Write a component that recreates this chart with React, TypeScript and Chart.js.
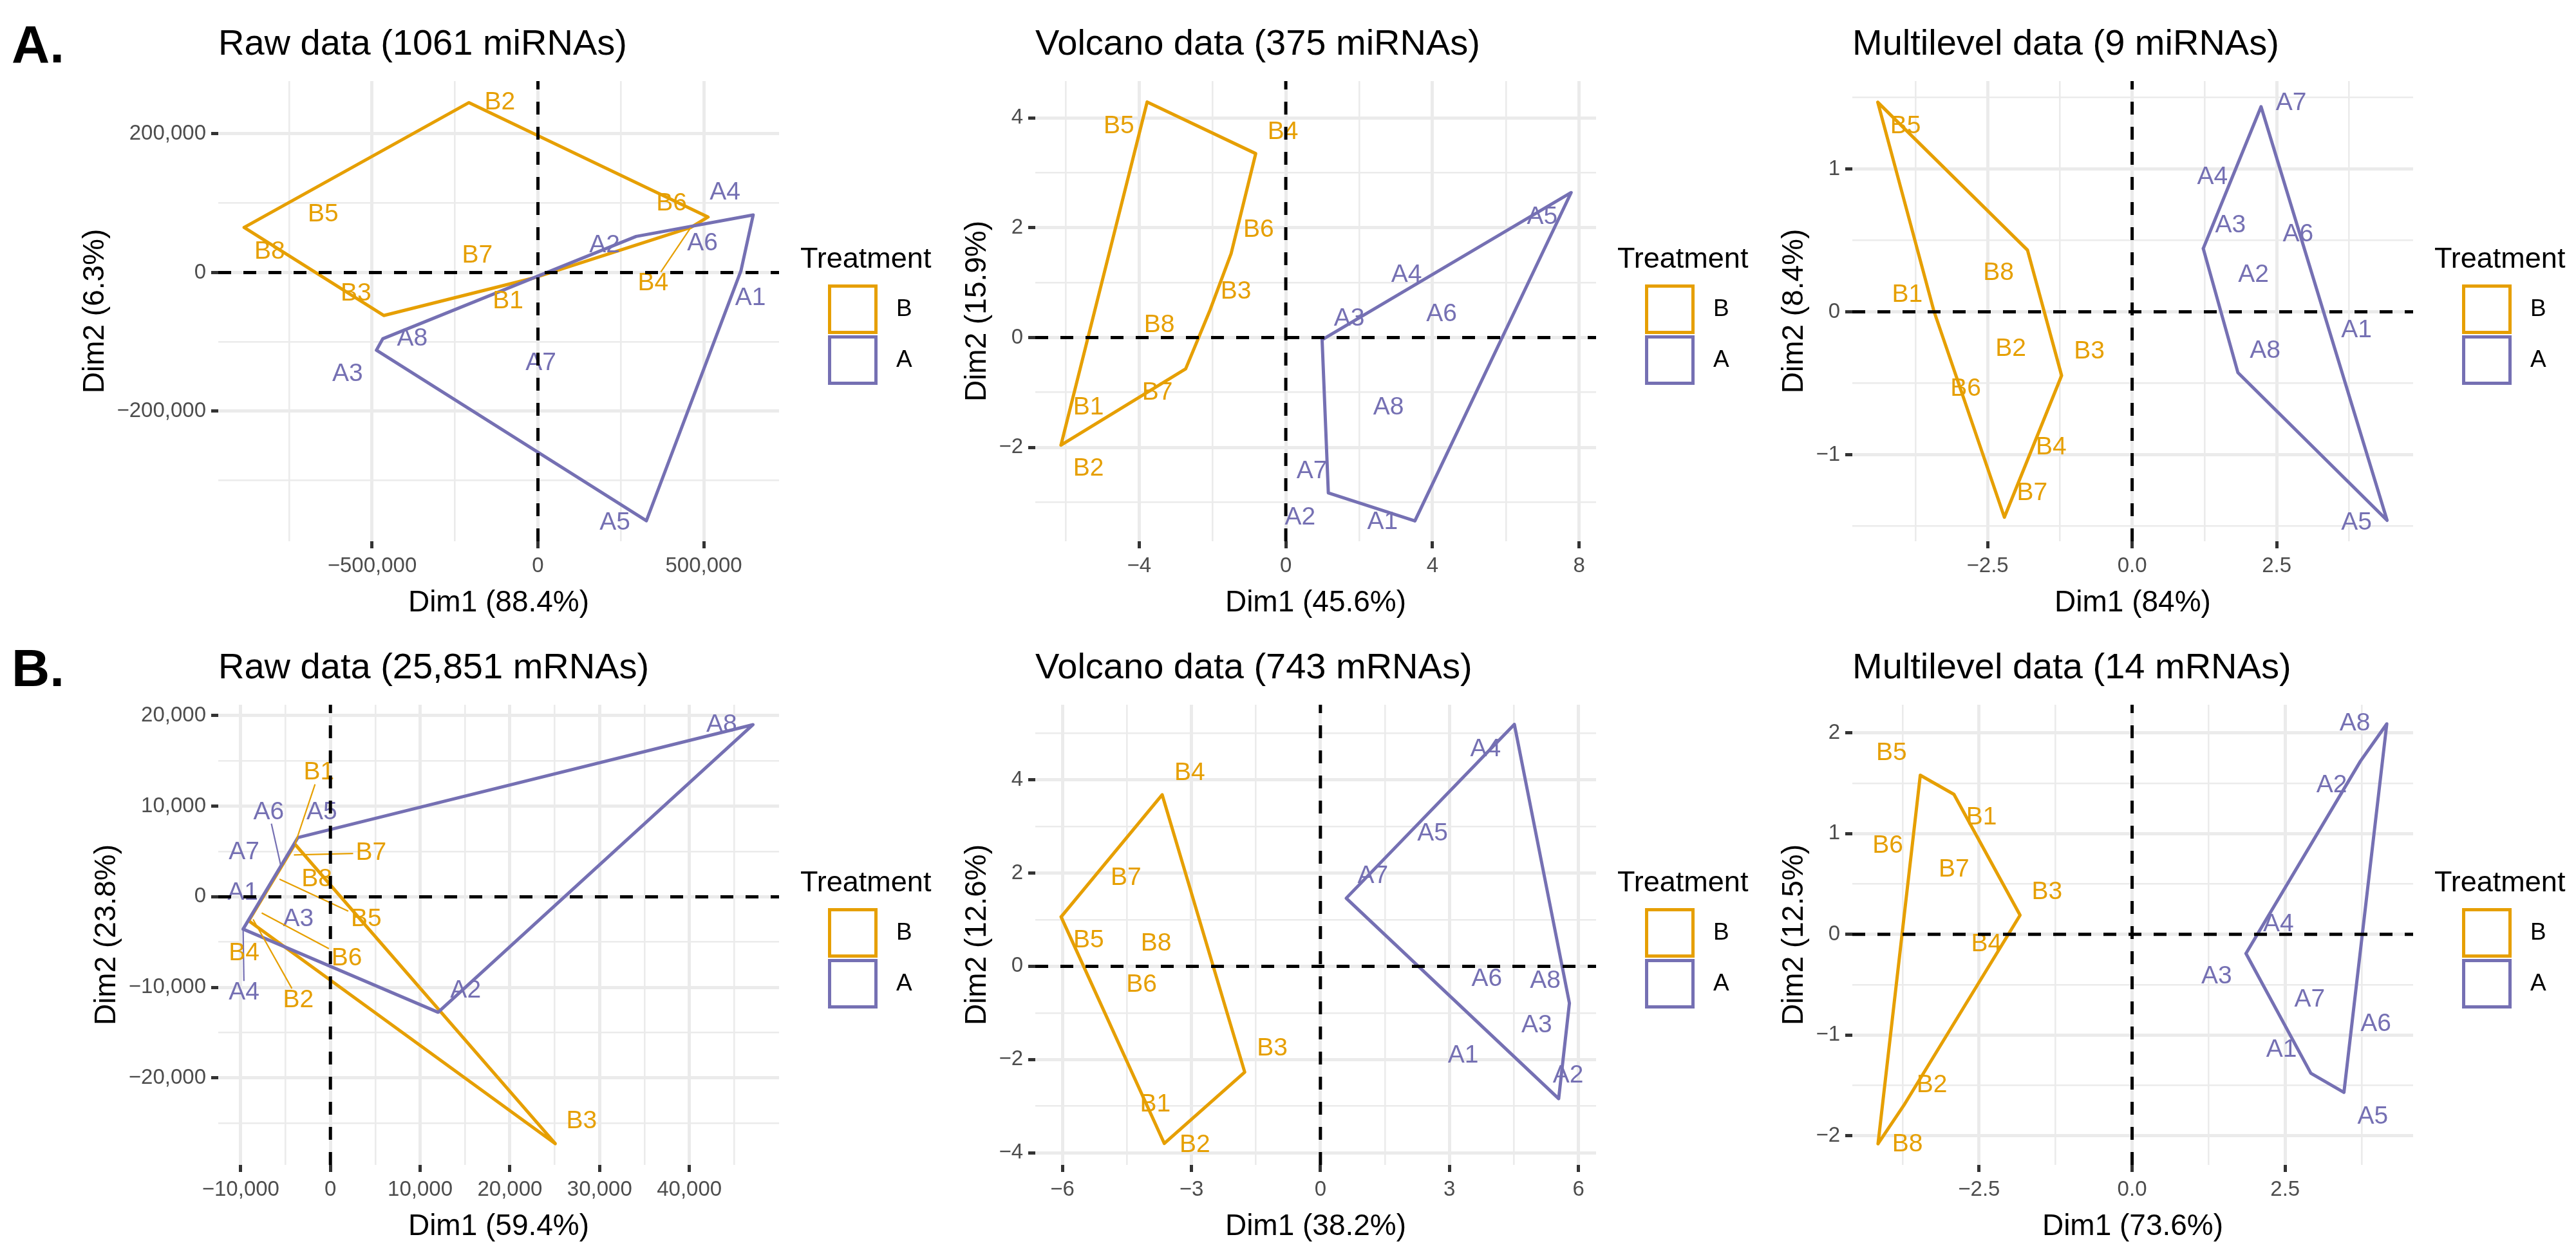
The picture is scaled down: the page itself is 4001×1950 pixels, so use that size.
import React, { useEffect, useRef } from 'react';
import { Chart, registerables } from 'chart.js';

Chart.register(...registerables);

type Pair = [number, number];

// ---------- shared styling ----------
const FONT = "'Liberation Sans', Arial, Helvetica, sans-serif";
const COLOR_A = '#7570B3';
const COLOR_B = '#E69F00';
const GRID_COLOR = '#EBEBEB';
const TICK_TEXT = '#4D4D4D';

// ---------- shared categories ----------
const LEGEND_TITLE = 'Treatment';
const LEGEND_GROUPS = ['B', 'A'];
const A_SAMPLES = ['A1', 'A2', 'A3', 'A4', 'A5', 'A6', 'A7', 'A8'];
const B_SAMPLES = ['B1', 'B2', 'B3', 'B4', 'B5', 'B6', 'B7', 'B8'];
const ROW_TAGS = ['A.', 'B.'];

// ---------- Panel: Raw data (1061 miRNAs) ----------
const RAWMI_TITLE = 'Raw data (1061 miRNAs)';
const RAWMI_X_TITLE = 'Dim1 (88.4%)';
const RAWMI_Y_TITLE = 'Dim2 (6.3%)';
const RAWMI_X_LIMITS = [-964000, 727000];
const RAWMI_Y_LIMITS = [-387500, 276000];
const RAWMI_X_TICKS = [-500000, 0, 500000];
const RAWMI_X_TICK_LABELS = ['\u2212500,000', '0', '500,000'];
const RAWMI_X_MINOR = [-750000, -250000, 250000];
const RAWMI_Y_TICKS = [-200000, 0, 200000];
const RAWMI_Y_TICK_LABELS = ['\u2212200,000', '0', '200,000'];
const RAWMI_Y_MINOR = [-300000, -100000, 100000];
const RAWMI_A_POINTS: Pair[] = [[612000, 2300], [296000, 52000], [-487000, -112000], [649000, 83000], [327000, -358000], [473000, 67000], [9000, -131000], [-468000, -95500]];
const RAWMI_A_LABEL_AT: Pair[] = [[641000, -37000], [201000, 39000], [-574000, -146000], [564000, 115000], [232000, -361000], [496000, 41500], [9000, -131000], [-379000, -95500]];
const RAWMI_B_POINTS: Pair[] = [[-14000, -8000], [-208000, 245000], [-465000, -62000], [461000, 65000], [-648000, 84000], [513000, 80000], [-183000, 24000], [-886000, 65000]];
const RAWMI_B_LABEL_AT: Pair[] = [[-90000, -41500], [-115000, 245000], [-549000, -30000], [347000, -16000], [-648000, 84000], [403000, 99000], [-183000, 24500], [-809000, 30000]];
const RAWMI_SEGMENTS = ['B4'];

// ---------- Panel: Volcano data (375 miRNAs) ----------
const VOLMI_TITLE = 'Volcano data (375 miRNAs)';
const VOLMI_X_TITLE = 'Dim1 (45.6%)';
const VOLMI_Y_TITLE = 'Dim2 (15.9%)';
const VOLMI_X_LIMITS = [-6.83, 8.46];
const VOLMI_Y_LIMITS = [-3.71, 4.67];
const VOLMI_X_TICKS = [-4, 0, 4, 8];
const VOLMI_X_TICK_LABELS = ['\u22124', '0', '4', '8'];
const VOLMI_X_MINOR = [-6, -2, 2, 6];
const VOLMI_Y_TICKS = [-2, 0, 2, 4];
const VOLMI_Y_TICK_LABELS = ['\u22122', '0', '2', '4'];
const VOLMI_Y_MINOR = [-3, -1, 1, 3];
const VOLMI_A_POINTS: Pair[] = [[3.52, -3.34], [1.16, -2.83], [0.99, -0.04], [3.62, 0.99], [7.78, 2.64], [4.25, 0.43], [1.14, -2.28], [2.8, -1.28]];
const VOLMI_A_LABEL_AT: Pair[] = [[2.64, -3.36], [0.39, -3.28], [1.73, 0.34], [3.29, 1.14], [6.99, 2.19], [4.25, 0.43], [0.71, -2.43], [2.8, -1.28]];
const VOLMI_B_POINTS: Pair[] = [[-5.41, -1.26], [-6.13, -1.96], [-2.06, 0.51], [-0.82, 3.35], [-3.78, 4.29], [-1.49, 1.53], [-2.73, -0.57], [-3.45, 0.22]];
const VOLMI_B_LABEL_AT: Pair[] = [[-5.38, -1.28], [-5.38, -2.39], [-1.36, 0.83], [-0.08, 3.74], [-4.55, 3.85], [-0.74, 1.96], [-3.5, -1.0], [-3.45, 0.22]];
const VOLMI_SEGMENTS: string[] = [];

// ---------- Panel: Multilevel data (9 miRNAs) ----------
const MULMI_TITLE = 'Multilevel data (9 miRNAs)';
const MULMI_X_TITLE = 'Dim1 (84%)';
const MULMI_Y_TITLE = 'Dim2 (8.4%)';
const MULMI_X_LIMITS = [-4.84, 4.86];
const MULMI_Y_LIMITS = [-1.606, 1.615];
const MULMI_X_TICKS = [-2.5, 0, 2.5];
const MULMI_X_TICK_LABELS = ['\u22122.5', '0.0', '2.5'];
const MULMI_X_MINOR = [-3.75, -1.25, 1.25, 3.75];
const MULMI_Y_TICKS = [-1, 0, 1];
const MULMI_Y_TICK_LABELS = ['\u22121', '0', '1'];
const MULMI_Y_MINOR = [-1.5, -0.5, 0.5, 1.5];
const MULMI_A_POINTS: Pair[] = [[3.4, -0.13], [2.1, 0.26], [1.23, 0.443], [1.72, 0.93], [4.41, -1.46], [2.94, 0.48], [2.23, 1.436], [1.83, -0.426]];
const MULMI_A_LABEL_AT: Pair[] = [[3.88, -0.128], [2.1, 0.26], [1.7, 0.605], [1.39, 0.943], [3.88, -1.476], [2.87, 0.54], [2.75, 1.46], [2.3, -0.273]];
const MULMI_B_POINTS: Pair[] = [[-3.43, 0.007], [-2.1, -0.26], [-1.22, -0.446], [-1.66, -0.87], [-4.4, 1.467], [-2.95, -0.53], [-2.21, -1.438], [-1.81, 0.432]];
const MULMI_B_LABEL_AT: Pair[] = [[-3.89, 0.12], [-2.1, -0.26], [-0.74, -0.28], [-1.4, -0.95], [-3.92, 1.3], [-2.88, -0.54], [-1.73, -1.27], [-2.31, 0.27]];
const MULMI_SEGMENTS: string[] = [];

// ---------- Panel: Raw data (25,851 mRNAs) ----------
const RAWM_TITLE = 'Raw data (25,851 mRNAs)';
const RAWM_X_TITLE = 'Dim1 (59.4%)';
const RAWM_Y_TITLE = 'Dim2 (23.8%)';
const RAWM_X_LIMITS = [-12500, 50000];
const RAWM_Y_LIMITS = [-29600, 21200];
const RAWM_X_TICKS = [-10000, 0, 10000, 20000, 30000, 40000];
const RAWM_X_TICK_LABELS = ['\u221210,000', '0', '10,000', '20,000', '30,000', '40,000'];
const RAWM_X_MINOR = [-5000, 5000, 15000, 25000, 35000, 45000];
const RAWM_Y_TICKS = [-20000, -10000, 0, 10000, 20000];
const RAWM_Y_TICK_LABELS = ['\u221220,000', '\u221210,000', '0', '10,000', '20,000'];
const RAWM_Y_MINOR = [-25000, -15000, -5000, 5000, 15000];
const RAWM_A_POINTS: Pair[] = [[-7100, 400], [12000, -12750], [-3580, -2500], [-9730, -3570], [-3620, 6540], [-5500, 3320], [-5000, 4000], [47100, 19000]];
const RAWM_A_LABEL_AT: Pair[] = [[-9760, 470], [15070, -10330], [-3570, -2500], [-9620, -10580], [-960, 9350], [-6870, 9350], [-9620, 4930], [43600, 18950]];
const RAWM_B_POINTS: Pair[] = [[-3950, 5800], [-8620, -2490], [25060, -27250], [-9100, -2650], [-5680, 1940], [-7660, -1780], [-4070, 4620], [-1500, 1900]];
const RAWM_B_LABEL_AT: Pair[] = [[-1280, 13700], [-3570, -11400], [28000, -24800], [-9620, -6230], [3990, -2500], [1830, -6780], [4530, 4820], [-1510, 1920]];
const RAWM_SEGMENTS = ['B1', 'B7', 'B5', 'B6', 'B2', 'A6', 'A4'];

// ---------- Panel: Volcano data (743 mRNAs) ----------
const VOLM_TITLE = 'Volcano data (743 mRNAs)';
const VOLM_X_TITLE = 'Dim1 (38.2%)';
const VOLM_Y_TITLE = 'Dim2 (12.6%)';
const VOLM_X_LIMITS = [-6.63, 6.41];
const VOLM_Y_LIMITS = [-4.26, 5.61];
const VOLM_X_TICKS = [-6, -3, 0, 3, 6];
const VOLM_X_TICK_LABELS = ['\u22126', '\u22123', '0', '3', '6'];
const VOLM_X_MINOR = [-4.5, -1.5, 1.5, 4.5];
const VOLM_Y_TICKS = [-4, -2, 0, 2, 4];
const VOLM_Y_TICK_LABELS = ['\u22124', '\u22122', '0', '2', '4'];
const VOLM_Y_MINOR = [-3, -1, 1, 3, 5];
const VOLM_A_POINTS: Pair[] = [[4.0, -1.45], [5.54, -2.84], [5.03, -1.27], [4.51, 5.19], [2.61, 2.85], [3.87, -0.28], [0.6, 1.46], [5.79, -0.79]];
const VOLM_A_LABEL_AT: Pair[] = [[3.32, -1.92], [5.76, -2.35], [5.03, -1.27], [3.84, 4.65], [2.61, 2.85], [3.87, -0.28], [1.22, 1.94], [5.23, -0.32]];
const VOLM_B_POINTS: Pair[] = [[-3.98, -2.95], [-3.63, -3.8], [-1.76, -2.27], [-3.68, 3.68], [-6.03, 1.06], [-4.16, -0.4], [-4.52, 1.9], [-3.82, 0.48]];
const VOLM_B_LABEL_AT: Pair[] = [[-3.84, -2.96], [-2.92, -3.84], [-1.12, -1.77], [-3.04, 4.15], [-5.39, 0.55], [-4.16, -0.4], [-4.52, 1.9], [-3.82, 0.48]];
const VOLM_SEGMENTS: string[] = [];

// ---------- Panel: Multilevel data (14 mRNAs) ----------
const MULM_TITLE = 'Multilevel data (14 mRNAs)';
const MULM_X_TITLE = 'Dim1 (73.6%)';
const MULM_Y_TITLE = 'Dim2 (12.5%)';
const MULM_X_LIMITS = [-4.57, 4.59];
const MULM_Y_LIMITS = [-2.29, 2.28];
const MULM_X_TICKS = [-2.5, 0, 2.5];
const MULM_X_TICK_LABELS = ['\u22122.5', '0.0', '2.5'];
const MULM_X_MINOR = [-3.75, -1.25, 1.25, 3.75];
const MULM_Y_TICKS = [-2, -1, 0, 1, 2];
const MULM_Y_TICK_LABELS = ['\u22122', '\u22121', '0', '1', '2'];
const MULM_Y_MINOR = [-1.5, -0.5, 0.5, 1.5];
const MULM_A_POINTS: Pair[] = [[2.92, -1.38], [3.73, 1.72], [1.86, -0.19], [2.3, 0.12], [3.46, -1.57], [3.57, -0.89], [2.9, -0.65], [4.16, 2.09]];
const MULM_A_LABEL_AT: Pair[] = [[2.44, -1.15], [3.26, 1.48], [1.38, -0.42], [2.39, 0.1], [3.93, -1.81], [3.98, -0.89], [2.9, -0.65], [3.64, 2.09]];
const MULM_B_POINTS: Pair[] = [[-2.91, 1.39], [-3.73, -1.7], [-1.83, 0.19], [-2.32, -0.12], [-3.46, 1.58], [-3.58, 0.87], [-2.91, 0.64], [-4.15, -2.08]];
const MULM_B_LABEL_AT: Pair[] = [[-2.46, 1.16], [-3.27, -1.5], [-1.39, 0.42], [-2.38, -0.1], [-3.93, 1.8], [-3.99, 0.88], [-2.91, 0.64], [-3.67, -2.09]];
const MULM_SEGMENTS: string[] = [];

// ---------- layout ----------
const PAGE_W = 4001;
const PAGE_H = 1950;
const COL_STEP = 1269;
const ROW_STEP = 969;
const CELL_W = 1460;
const CELL_H = 975;
const AREA = { left: 339, right: 1210, top: 126, bottom: 841 };
const Y_AXIS_W = 200;
const X_AXIS_H = 60;

const PANELS = [
  { row: 0, col: 0, title: RAWMI_TITLE, xTitle: RAWMI_X_TITLE, yTitle: RAWMI_Y_TITLE, xLim: RAWMI_X_LIMITS, yLim: RAWMI_Y_LIMITS, xTicks: RAWMI_X_TICKS, xLabels: RAWMI_X_TICK_LABELS, xMinor: RAWMI_X_MINOR, yTicks: RAWMI_Y_TICKS, yLabels: RAWMI_Y_TICK_LABELS, yMinor: RAWMI_Y_MINOR, aPts: RAWMI_A_POINTS, aLab: RAWMI_A_LABEL_AT, bPts: RAWMI_B_POINTS, bLab: RAWMI_B_LABEL_AT, segs: RAWMI_SEGMENTS },
  { row: 0, col: 1, title: VOLMI_TITLE, xTitle: VOLMI_X_TITLE, yTitle: VOLMI_Y_TITLE, xLim: VOLMI_X_LIMITS, yLim: VOLMI_Y_LIMITS, xTicks: VOLMI_X_TICKS, xLabels: VOLMI_X_TICK_LABELS, xMinor: VOLMI_X_MINOR, yTicks: VOLMI_Y_TICKS, yLabels: VOLMI_Y_TICK_LABELS, yMinor: VOLMI_Y_MINOR, aPts: VOLMI_A_POINTS, aLab: VOLMI_A_LABEL_AT, bPts: VOLMI_B_POINTS, bLab: VOLMI_B_LABEL_AT, segs: VOLMI_SEGMENTS },
  { row: 0, col: 2, title: MULMI_TITLE, xTitle: MULMI_X_TITLE, yTitle: MULMI_Y_TITLE, xLim: MULMI_X_LIMITS, yLim: MULMI_Y_LIMITS, xTicks: MULMI_X_TICKS, xLabels: MULMI_X_TICK_LABELS, xMinor: MULMI_X_MINOR, yTicks: MULMI_Y_TICKS, yLabels: MULMI_Y_TICK_LABELS, yMinor: MULMI_Y_MINOR, aPts: MULMI_A_POINTS, aLab: MULMI_A_LABEL_AT, bPts: MULMI_B_POINTS, bLab: MULMI_B_LABEL_AT, segs: MULMI_SEGMENTS },
  { row: 1, col: 0, title: RAWM_TITLE, xTitle: RAWM_X_TITLE, yTitle: RAWM_Y_TITLE, xLim: RAWM_X_LIMITS, yLim: RAWM_Y_LIMITS, xTicks: RAWM_X_TICKS, xLabels: RAWM_X_TICK_LABELS, xMinor: RAWM_X_MINOR, yTicks: RAWM_Y_TICKS, yLabels: RAWM_Y_TICK_LABELS, yMinor: RAWM_Y_MINOR, aPts: RAWM_A_POINTS, aLab: RAWM_A_LABEL_AT, bPts: RAWM_B_POINTS, bLab: RAWM_B_LABEL_AT, segs: RAWM_SEGMENTS },
  { row: 1, col: 1, title: VOLM_TITLE, xTitle: VOLM_X_TITLE, yTitle: VOLM_Y_TITLE, xLim: VOLM_X_LIMITS, yLim: VOLM_Y_LIMITS, xTicks: VOLM_X_TICKS, xLabels: VOLM_X_TICK_LABELS, xMinor: VOLM_X_MINOR, yTicks: VOLM_Y_TICKS, yLabels: VOLM_Y_TICK_LABELS, yMinor: VOLM_Y_MINOR, aPts: VOLM_A_POINTS, aLab: VOLM_A_LABEL_AT, bPts: VOLM_B_POINTS, bLab: VOLM_B_LABEL_AT, segs: VOLM_SEGMENTS },
  { row: 1, col: 2, title: MULM_TITLE, xTitle: MULM_X_TITLE, yTitle: MULM_Y_TITLE, xLim: MULM_X_LIMITS, yLim: MULM_Y_LIMITS, xTicks: MULM_X_TICKS, xLabels: MULM_X_TICK_LABELS, xMinor: MULM_X_MINOR, yTicks: MULM_Y_TICKS, yLabels: MULM_Y_TICK_LABELS, yMinor: MULM_Y_MINOR, aPts: MULM_A_POINTS, aLab: MULM_A_LABEL_AT, bPts: MULM_B_POINTS, bLab: MULM_B_LABEL_AT, segs: MULM_SEGMENTS },
];

function convexHull(pts: Pair[]): Pair[] {
  const p = pts.slice().sort((a, b) => a[0] - b[0] || a[1] - b[1]);
  const cross = (o: Pair, a: Pair, b: Pair) => (a[0] - o[0]) * (b[1] - o[1]) - (a[1] - o[1]) * (b[0] - o[0]);
  const lower: Pair[] = [];
  for (const q of p) {
    while (lower.length >= 2 && cross(lower[lower.length - 2], lower[lower.length - 1], q) <= 0) lower.pop();
    lower.push(q);
  }
  const upper: Pair[] = [];
  for (let i = p.length - 1; i >= 0; i--) {
    const q = p[i];
    while (upper.length >= 2 && cross(upper[upper.length - 2], upper[upper.length - 1], q) <= 0) upper.pop();
    upper.push(q);
  }
  upper.pop();
  lower.pop();
  return lower.concat(upper);
}

function makeAxis(lim: number[], majors: number[], labels: string[], minors: number[], isX: boolean) {
  const all = [...majors, ...minors].sort((a, b) => a - b);
  const eps = (lim[1] - lim[0]) * 1e-6;
  const majorIndex = (v: number) => majors.findIndex((m) => Math.abs(m - v) < eps);
  const isMajor = (c: any) => !!(c && c.tick && majorIndex(c.tick.value) >= 0);
  return {
    type: 'linear',
    position: isX ? 'bottom' : 'left',
    min: lim[0],
    max: lim[1],
    bounds: 'data',
    afterBuildTicks: (s: any) => {
      s.ticks = all.map((v) => ({ value: v }));
    },
    afterFit: (s: any) => {
      if (isX) s.height = X_AXIS_H;
      else s.width = Y_AXIS_W;
    },
    border: { display: false },
    grid: {
      color: GRID_COLOR,
      lineWidth: (c: any) => (isMajor(c) ? 5 : 2.6),
      drawTicks: true,
      tickLength: 11,
      tickColor: (c: any) => (isMajor(c) ? '#333333' : 'rgba(0,0,0,0)'),
      tickWidth: (c: any) => (isMajor(c) ? 5 : 0),
    },
    ticks: {
      autoSkip: false,
      maxRotation: 0,
      minRotation: 0,
      padding: 8,
      color: TICK_TEXT,
      font: { family: FONT, size: 33 },
      callback: (v: any) => {
        const i = majorIndex(Number(v));
        return i >= 0 ? labels[i] : '';
      },
    },
  };
}

function PcaPanel({ cfg }: { cfg: any }) {
  const ref = useRef<HTMLCanvasElement | null>(null);

  useEffect(() => {
    const canvas = ref.current;
    if (!canvas) return;

    const groups = [
      { key: 'A', color: COLOR_A, names: A_SAMPLES, pts: cfg.aPts as Pair[], lab: cfg.aLab as Pair[] },
      { key: 'B', color: COLOR_B, names: B_SAMPLES, pts: cfg.bPts as Pair[], lab: cfg.bLab as Pair[] },
    ];

    const datasets = groups.map((g) => {
      const hull = convexHull(g.pts);
      return {
        label: g.key,
        data: [...hull, hull[0]].map(([x, y]) => ({ x, y })),
        showLine: true,
        borderColor: g.color,
        backgroundColor: g.color,
        borderWidth: 5,
        pointRadius: 0,
        pointHoverRadius: 0,
        fill: false,
        tension: 0,
        borderJoinStyle: 'round',
        borderCapStyle: 'round',
      };
    });

    const overlay = {
      id: 'pcaOverlay',
      afterDatasetsDraw(chart: any) {
        const { ctx, chartArea: ca } = chart;
        const xs = chart.scales.x;
        const ys = chart.scales.y;
        ctx.save();
        // sample labels with repel segments
        ctx.font = `39px ${FONT}`;
        ctx.textAlign = 'center';
        ctx.textBaseline = 'middle';
        for (const g of groups) {
          g.names.forEach((name, i) => {
            const lx = xs.getPixelForValue(g.lab[i][0]);
            const ly = ys.getPixelForValue(g.lab[i][1]);
            if ((cfg.segs as string[]).includes(name)) {
              const px = xs.getPixelForValue(g.pts[i][0]);
              const py = ys.getPixelForValue(g.pts[i][1]);
              const hw = ctx.measureText(name).width / 2 + 4;
              const hh = 18;
              const dx = px - lx;
              const dy = py - ly;
              const t = Math.min(dx !== 0 ? hw / Math.abs(dx) : Infinity, dy !== 0 ? hh / Math.abs(dy) : Infinity);
              if (t < 1) {
                ctx.beginPath();
                ctx.strokeStyle = g.color;
                ctx.lineWidth = 2.2;
                ctx.moveTo(lx + dx * t, ly + dy * t);
                ctx.lineTo(px, py);
                ctx.stroke();
              }
            }
            ctx.fillStyle = g.color;
            ctx.fillText(name, lx, ly);
          });
        }
        // dashed reference lines at zero
        ctx.beginPath();
        ctx.rect(ca.left, ca.top, ca.right - ca.left, ca.bottom - ca.top);
        ctx.clip();
        ctx.strokeStyle = '#000000';
        ctx.lineWidth = 5;
        ctx.setLineDash([20, 19]);
        const y0 = ys.getPixelForValue(0);
        ctx.beginPath();
        ctx.moveTo(ca.left, y0);
        ctx.lineTo(ca.right, y0);
        ctx.stroke();
        const x0 = xs.getPixelForValue(0);
        ctx.beginPath();
        ctx.moveTo(x0, ca.bottom);
        ctx.lineTo(x0, ca.top);
        ctx.stroke();
        ctx.restore();
      },
      afterDraw(chart: any) {
        const { ctx, chartArea: ca } = chart;
        ctx.save();
        ctx.fillStyle = '#000000';
        // row tag
        if (cfg.col === 0) {
          ctx.font = `bold 82px ${FONT}`;
          ctx.textAlign = 'left';
          ctx.textBaseline = 'alphabetic';
          ctx.fillText(ROW_TAGS[cfg.row], 18, 97);
        }
        // title
        ctx.font = `56px ${FONT}`;
        ctx.textAlign = 'left';
        ctx.textBaseline = 'alphabetic';
        ctx.fillText(cfg.title, ca.left, ca.top - 41);
        // x axis title
        ctx.font = `46px ${FONT}`;
        ctx.textAlign = 'center';
        ctx.fillText(cfg.xTitle, (ca.left + ca.right) / 2, ca.bottom + 109);
        // y axis title, next to the widest tick label
        ctx.font = `33px ${FONT}`;
        const maxW = Math.max(...(cfg.yLabels as string[]).map((s) => ctx.measureText(s).width));
        const cx = ca.left - 11 - 8 - maxW - 11 - 22;
        ctx.font = `46px ${FONT}`;
        ctx.translate(cx, (ca.top + ca.bottom) / 2);
        ctx.rotate(-Math.PI / 2);
        ctx.textAlign = 'center';
        ctx.textBaseline = 'middle';
        ctx.fillText(cfg.yTitle, 0, 0);
        ctx.setTransform(1, 0, 0, 1, 0, 0);
        // legend
        ctx.textAlign = 'left';
        ctx.textBaseline = 'alphabetic';
        ctx.font = `45px ${FONT}`;
        ctx.fillText(LEGEND_TITLE, ca.right + 33, ca.top + 290);
        LEGEND_GROUPS.forEach((gname, i) => {
          const color = gname === 'A' ? COLOR_A : COLOR_B;
          const kx = ca.right + 76;
          const ky = ca.top + 316 + i * 79;
          ctx.strokeStyle = color;
          ctx.lineWidth = 5;
          ctx.setLineDash([]);
          ctx.strokeRect(kx + 2.5, ky + 2.5, 72, 72);
          ctx.fillStyle = '#000000';
          ctx.font = `37px ${FONT}`;
          ctx.textBaseline = 'middle';
          ctx.fillText(gname, ca.right + 182, ky + 38.5);
        });
        ctx.restore();
      },
    };

    const chart = new Chart(canvas, {
      type: 'scatter',
      data: { datasets: datasets as any },
      options: {
        animation: false,
        responsive: false,
        devicePixelRatio: 1,
        events: [],
        layout: {
          autoPadding: false,
          padding: {
            left: AREA.left - Y_AXIS_W,
            right: CELL_W - AREA.right,
            top: AREA.top,
            bottom: CELL_H - AREA.bottom - X_AXIS_H,
          },
        },
        plugins: {
          legend: { display: false },
          title: { display: false },
          tooltip: { enabled: false },
        },
        scales: {
          x: makeAxis(cfg.xLim, cfg.xTicks, cfg.xLabels, cfg.xMinor, true) as any,
          y: makeAxis(cfg.yLim, cfg.yTicks, cfg.yLabels, cfg.yMinor, false) as any,
        },
      } as any,
      plugins: [overlay as any],
    });

    return () => chart.destroy();
  }, [cfg]);

  return (
    <canvas
      ref={ref}
      width={CELL_W}
      height={CELL_H}
      style={{
        position: 'absolute',
        left: cfg.col * COL_STEP,
        top: cfg.row * ROW_STEP,
        width: CELL_W,
        height: CELL_H,
      }}
    />
  );
}

export default function App() {
  return (
    <div
      style={{
        position: 'absolute',
        left: 0,
        top: 0,
        width: PAGE_W,
        height: PAGE_H,
        background: '#ffffff',
        overflow: 'hidden',
      }}
    >
      {PANELS.map((p, i) => (
        <PcaPanel key={i} cfg={p} />
      ))}
    </div>
  );
}
